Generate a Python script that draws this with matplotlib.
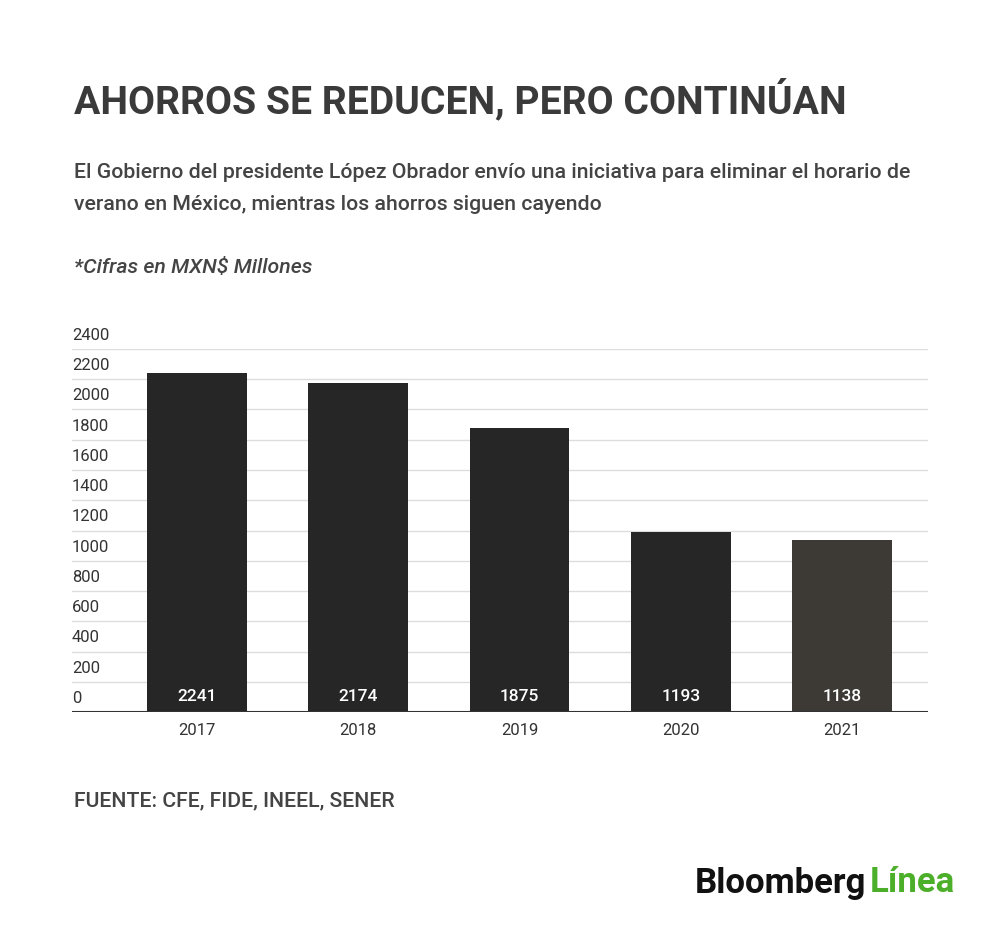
import matplotlib.pyplot as plt

years = ["2017", "2018", "2019", "2020", "2021"]
ahorros = [2241, 2174, 1875, 1193, 1138]
bar_colors = ["#262626", "#262626", "#262626", "#262626", "#3d3a35"]
yticks = list(range(0, 2401, 200))

plt.rcParams['font.family'] = ['Roboto', 'DejaVu Sans']

W, H = 1000, 925
fig = plt.figure(figsize=(W / 100, H / 100), dpi=100)
fig.patch.set_facecolor("white")

# eje: izquierda 72px, derecha 928px, abajo 712px, arriba 349px
ax = fig.add_axes([72 / W, 1 - 712 / H, (928 - 72) / W, (712 - 349) / H])
x = list(range(len(years)))
ax.bar(x, ahorros, width=0.62, color=bar_colors, zorder=3)
ax.set_xlim(-0.776, 4.534)
ax.set_ylim(0, 2400)
for t in yticks:
    ax.axhline(t, color="#dddddd", lw=1, zorder=1)
    ax.text(-0.776, t + 90, str(t), fontsize=12, color="#333333", va="center", ha="left")
ax.axhline(0, color="#333333", lw=1.5, zorder=4)
for i, v in enumerate(ahorros):
    ax.text(i, 100, str(v), color="white", fontsize=12.5, fontweight="medium",
            ha="center", va="center", zorder=5)
ax.set_yticks([])
ax.set_xticks(x)
ax.set_xticklabels(years, fontsize=12, color="#333333")
ax.tick_params(axis="x", length=0, pad=8)
for s in ax.spines.values():
    s.set_visible(False)

fig.text(74 / W, 1 - 100 / H, "AHORROS SE REDUCEN, PERO CONTINÚAN", fontsize=28.2,
         fontweight="bold", color="#3a3a3a", va="center")
fig.text(74 / W, 1 - 172 / H, "El Gobierno del presidente López Obrador envío una iniciativa para eliminar el horario de",
         fontsize=15.3, fontweight="medium", color="#444444", va="center")
fig.text(74 / W, 1 - 204 / H, "verano en México, mientras los ahorros siguen cayendo",
         fontsize=15.3, fontweight="medium", color="#444444", va="center")
fig.text(74 / W, 1 - 268 / H, "*Cifras en MXN$ Millones", fontsize=15.3, style="italic",
         fontweight="medium", color="#444444", va="center")
fig.text(74 / W, 1 - 801 / H, "FUENTE: CFE, FIDE, INEEL, SENER", fontsize=15.3,
         fontweight="medium", color="#444444", va="center")
fig.text(695 / W, 1 - 883 / H, "Bloomberg", fontsize=25, fontweight="bold",
         color="#111111", va="center")
fig.text(870 / W, 1 - 883 / H, "Línea", fontsize=25, fontweight="bold",
         color="#4caf2a", va="center")

fig.savefig("out.png", dpi=100)
